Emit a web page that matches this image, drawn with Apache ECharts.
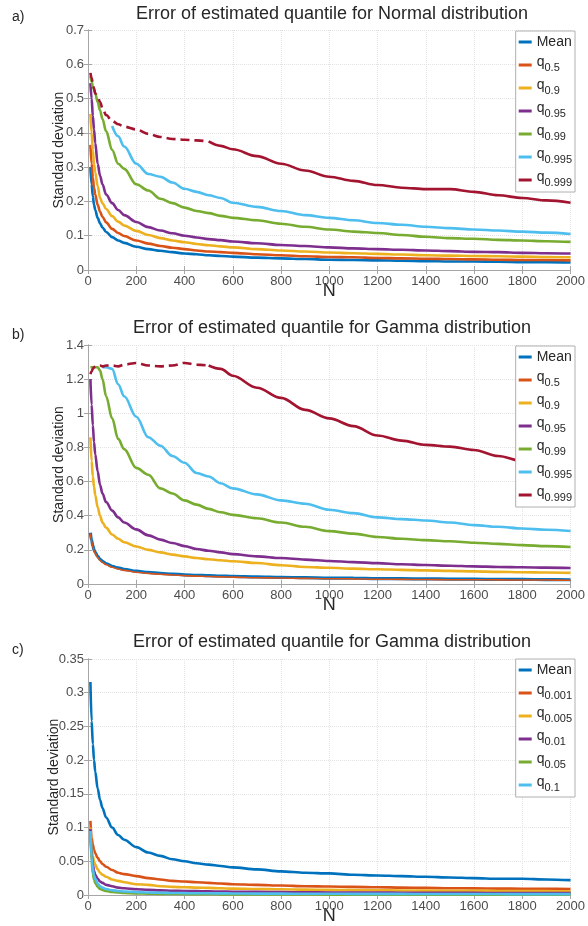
<!DOCTYPE html>
<html>
<head>
<meta charset="utf-8">
<script src="https://cdn.jsdelivr.net/npm/echarts@6/dist/echarts.min.js"></script>
<style>
html,body{margin:0;padding:0;background:#fff;}
#chart{width:588px;height:926px;}
</style>
</head>
<body>
<div id="chart"></div>
<script>
// ---- sample sizes ----
const N = [10,15,20,25,30,40,50,60,75,100,125,150,200,250,300,350,400,450,500,550,600,700,800,900,1000,1100,1200,1300,1400,1500,1600,1700,1800,1900,2000];

// ---- panel a: Normal distribution ----
const aMean = [0.30,0.25,0.215,0.19,0.175,0.152,0.136,0.124,0.111,0.096,0.086,0.079,0.068,0.061,0.056,0.052,0.048,0.046,0.043,0.041,0.039,0.036,0.034,0.032,0.030,0.029,0.028,0.027,0.026,0.025,0.025,0.024,0.023,0.023,0.022];
const aQ05 = [0.365,0.31,0.27,0.24,0.22,0.19,0.17,0.155,0.139,0.12,0.108,0.099,0.086,0.077,0.07,0.065,0.061,0.057,0.054,0.052,0.05,0.046,0.043,0.04,0.038,0.037,0.035,0.034,0.033,0.032,0.031,0.03,0.029,0.029,0.028];
const aQ09 = [0.455,0.4,0.35,0.31,0.285,0.245,0.21,0.195,0.178,0.157,0.141,0.13,0.114,0.102,0.093,0.086,0.081,0.076,0.072,0.069,0.066,0.061,0.057,0.054,0.051,0.049,0.047,0.045,0.043,0.042,0.041,0.04,0.039,0.038,0.037];
const aQ095 = [0.545,0.5,0.45,0.41,0.37,0.31,0.275,0.25,0.22,0.195,0.175,0.16,0.14,0.125,0.115,0.107,0.1,0.095,0.09,0.087,0.083,0.078,0.073,0.07,0.066,0.063,0.061,0.059,0.057,0.055,0.053,0.052,0.05,0.049,0.048];
const aQ099 = [0.565,0.55,0.535,0.525,0.515,0.49,0.465,0.44,0.405,0.35,0.31,0.295,0.25,0.232,0.208,0.195,0.182,0.172,0.166,0.158,0.152,0.145,0.135,0.126,0.118,0.112,0.108,0.102,0.097,0.093,0.091,0.088,0.086,0.084,0.082];
const aQ0995 = [null,null,null,null,null,null,null,null,null,0.42,0.39,0.36,0.31,0.28,0.272,0.255,0.237,0.228,0.218,0.21,0.196,0.184,0.172,0.16,0.152,0.145,0.137,0.132,0.126,0.122,0.118,0.115,0.112,0.109,0.105];
const aQ0999 = [0.575,0.56,0.545,0.53,0.515,0.505,0.49,0.472,0.452,0.435,0.425,0.418,0.41,0.397,0.388,0.382,0.38,0.378,0.375,0.362,0.352,0.332,0.31,0.29,0.272,0.26,0.248,0.24,0.236,0.236,0.228,0.218,0.21,0.203,0.196];

// ---- panel b: Gamma distribution, upper quantiles ----
const bMean = [0.30,0.255,0.225,0.2,0.185,0.162,0.145,0.133,0.12,0.104,0.094,0.086,0.075,0.068,0.062,0.058,0.054,0.051,0.049,0.047,0.045,0.042,0.039,0.037,0.035,0.034,0.032,0.031,0.030,0.029,0.028,0.027,0.027,0.026,0.025];
const bQ05 = [0.295,0.25,0.218,0.194,0.178,0.155,0.138,0.126,0.113,0.098,0.088,0.08,0.069,0.062,0.057,0.053,0.049,0.046,0.044,0.042,0.04,0.037,0.035,0.033,0.031,0.03,0.028,0.027,0.026,0.025,0.025,0.024,0.023,0.023,0.022];
const bQ09 = [0.86,0.72,0.63,0.57,0.52,0.45,0.4,0.36,0.33,0.29,0.265,0.245,0.22,0.2,0.185,0.172,0.162,0.152,0.145,0.139,0.133,0.123,0.11,0.1,0.095,0.09,0.086,0.083,0.08,0.077,0.074,0.071,0.069,0.067,0.065];
const bQ095 = [1.2,1.05,0.93,0.83,0.76,0.66,0.58,0.53,0.48,0.43,0.39,0.36,0.32,0.285,0.26,0.24,0.222,0.205,0.195,0.185,0.175,0.162,0.152,0.143,0.135,0.128,0.122,0.116,0.111,0.107,0.103,0.1,0.098,0.096,0.094];
const bQ099 = [1.27,1.27,1.27,1.27,1.27,1.27,1.25,1.2,1.1,0.97,0.85,0.79,0.68,0.64,0.56,0.53,0.49,0.465,0.44,0.42,0.405,0.385,0.36,0.335,0.31,0.295,0.275,0.265,0.257,0.25,0.242,0.235,0.228,0.222,0.217];
const bQ0995 = [null,null,null,null,null,null,null,1.27,1.27,1.26,1.17,1.1,0.98,0.86,0.81,0.75,0.71,0.65,0.63,0.59,0.56,0.525,0.49,0.47,0.435,0.415,0.39,0.38,0.372,0.36,0.345,0.335,0.325,0.318,0.31];
const bQ0999 = [1.23,1.245,1.26,1.27,1.275,1.28,1.28,1.275,1.28,1.28,1.275,1.285,1.295,1.28,1.275,1.28,1.295,1.285,1.28,1.26,1.22,1.15,1.09,1.02,0.97,0.925,0.87,0.84,0.815,0.805,0.785,0.75,0.72,0.70,0.68];

// ---- panel c: Gamma distribution, lower quantiles ----
const cMean = [0.316,0.258,0.224,0.2,0.183,0.158,0.141,0.129,0.115,0.1,0.089,0.082,0.071,0.063,0.058,0.053,0.05,0.047,0.045,0.043,0.041,0.038,0.035,0.033,0.032,0.03,0.029,0.028,0.027,0.026,0.025,0.024,0.024,0.023,0.022];
const cQ0001 = [0.11,0.085,0.075,0.067,0.062,0.055,0.05,0.046,0.042,0.037,0.033,0.031,0.028,0.025,0.023,0.021,0.02,0.019,0.018,0.017,0.016,0.015,0.014,0.013,0.0125,0.012,0.0115,0.011,0.0105,0.01,0.0098,0.0095,0.0093,0.0091,0.009];
const cQ0005 = [0.1,0.07,0.058,0.05,0.045,0.038,0.033,0.03,0.027,0.023,0.021,0.019,0.016,0.015,0.013,0.012,0.0115,0.011,0.0105,0.01,0.0095,0.009,0.0085,0.008,0.0076,0.0072,0.007,0.0067,0.0065,0.0063,0.0061,0.006,0.0058,0.0057,0.0055];
const cQ001 = [0.098,0.06,0.045,0.036,0.03,0.024,0.02,0.018,0.015,0.013,0.011,0.01,0.0085,0.0076,0.0069,0.0064,0.006,0.0057,0.0054,0.0051,0.0049,0.0046,0.0043,0.004,0.0038,0.0036,0.0035,0.0034,0.0033,0.0032,0.0031,0.003,0.0029,0.0028,0.0028];
const cQ005 = [0.095,0.05,0.032,0.023,0.018,0.012,0.009,0.0075,0.006,0.0045,0.0037,0.0031,0.0024,0.002,0.0017,0.0015,0.0013,0.0012,0.0011,0.001,0.00095,0.00085,0.00075,0.0007,0.00063,0.0006,0.00055,0.00052,0.0005,0.00047,0.00045,0.00043,0.00041,0.0004,0.00038];
const cQ01 = [0.095,0.055,0.038,0.029,0.024,0.017,0.013,0.011,0.009,0.007,0.006,0.0052,0.0043,0.0037,0.0033,0.003,0.0028,0.0026,0.0025,0.0024,0.0023,0.0021,0.002,0.0019,0.0018,0.0017,0.0016,0.0016,0.0015,0.0015,0.0014,0.0014,0.0013,0.0013,0.0013];

// ---- labels ----
const titles = ['Error of estimated quantile for Normal distribution','Error of estimated quantile for Gamma distribution','Error of estimated quantile for Gamma distribution'];
const panelTags = ['a)','b)','c)'];
const namesAB = ['Mean','q0.5','q0.9','q0.95','q0.99','q0.995','q0.999'];
const namesC = ['Mean','q0.001','q0.005','q0.01','q0.05','q0.1'];
const yMax = [0.7,1.4,0.35];
const yStep = [0.1,0.2,0.05];
const xTicks = {min:0,max:2000,step:200};

const COLORS = ['#0072BD','#D95319','#EDB120','#7E2F8E','#77AC30','#4DBEEE','#A2142F'];
const FONT = 'Liberation Sans, Arial, Helvetica, sans-serif';

// layout
const gridTop = [30,345,659];
const gridH = [240,239,239];
const legendTop = [31,346,659];
const yNameGap = [22,22,27];

function pairs(vals, lo, hi){
  const out=[];
  for(let i=0;i<N.length;i++){
    if(vals[i]==null) continue;
    if(lo!=null && N[i]<lo) continue;
    if(hi!=null && N[i]>hi) continue;
    out.push([N[i],vals[i]]);
  }
  return out;
}

const grid=[], xAxis=[], yAxis=[], legend=[], series=[], graphic=[];
const axisColor='#a6a6a6';
for(let p=0;p<3;p++){
  grid.push({left:88,right:12,top:gridTop[p],height:gridH[p],containLabel:false});
  xAxis.push({type:'value',gridIndex:p,min:xTicks.min,max:xTicks.max,interval:xTicks.step,
    name:'N',nameLocation:'middle',nameGap:12,nameMoveOverlap:false,
    nameTextStyle:{fontSize:18,color:'#262626',fontFamily:FONT,verticalAlign:'top'},
    axisLine:{lineStyle:{color:axisColor}},axisTick:{inside:true,length:4,lineStyle:{color:axisColor}},
    axisLabel:{color:'#4d4d4d',fontSize:13,margin:5,fontFamily:FONT,formatter:function(v){return String(v);}},
    splitLine:{show:true,lineStyle:{color:'#e3e3e3',type:'dotted'}}});
  yAxis.push({type:'value',gridIndex:p,min:0,max:yMax[p],interval:yStep[p],
    name:'Standard deviation',nameLocation:'middle',nameGap:yNameGap[p],nameRotate:90,nameMoveOverlap:false,
    nameTextStyle:{fontSize:14,color:'#262626',fontFamily:FONT},
    axisLine:{show:true,lineStyle:{color:axisColor}},axisTick:{show:true,inside:true,length:4,lineStyle:{color:axisColor}},
    axisLabel:{color:'#4d4d4d',fontSize:13,margin:4,fontFamily:FONT},
    splitLine:{show:true,lineStyle:{color:'#e3e3e3',type:'dotted'}}});
}
for(let p=0;p<3;p++){
  xAxis.push({type:'value',gridIndex:p,position:'top',min:xTicks.min,max:xTicks.max,interval:xTicks.step,
    axisLine:{show:true,lineStyle:{color:axisColor}},axisTick:{show:true,inside:true,length:4,lineStyle:{color:axisColor}},
    axisLabel:{show:false},splitLine:{show:false}});
  yAxis.push({type:'value',gridIndex:p,position:'right',min:0,max:yMax[p],interval:yStep[p],
    axisLine:{show:true,lineStyle:{color:axisColor}},axisTick:{show:true,inside:true,length:4,lineStyle:{color:axisColor}},
    axisLabel:{show:false},splitLine:{show:false}});
}

function addLine(p,name,vals,color,width,opts){
  opts=opts||{};
  series.push({type:'line',name:name,xAxisIndex:p,yAxisIndex:p,data:pairs(vals,opts.lo,opts.hi),
    showSymbol:false,symbol:'none',smooth:0.35,smoothMonotone:'x',clip:true,color:color,
    lineStyle:{width:width,color:color,type:opts.dash||'solid',cap:'butt'},z:2,
    emphasis:{disabled:true},silent:true});
}

const panelAB = [[aMean,aQ05,aQ09,aQ095,aQ099,aQ0995,aQ0999],[bMean,bQ05,bQ09,bQ095,bQ099,bQ0995,bQ0999]];
for(let p=0;p<2;p++){
  const arrs=panelAB[p];
  for(let k=0;k<6;k++){
    let w=2.6;
    if(p===1 && k===0) w=3.2;
    if(p===1 && k===1) w=1.6;
    addLine(p,namesAB[k],arrs[k],COLORS[k],w);
  }
  addLine(p,namesAB[6],arrs[6],COLORS[6],2.6,{hi:500,dash:[9,5]});
  addLine(p,namesAB[6],arrs[6],COLORS[6],2.6,{lo:500});
}
const panelC=[cMean,cQ0001,cQ0005,cQ001,cQ005,cQ01];
for(let k=0;k<6;k++) addLine(2,namesC[k],panelC[k],COLORS[k],2.6);

const legendNames=[namesAB,namesAB,namesC];
for(let p=0;p<3;p++){
  legend.push({data:legendNames[p],orient:'vertical',right:13,top:legendTop[p],
    backgroundColor:'#fff',borderColor:'#b0b0b0',borderWidth:1,borderRadius:0,
    padding:[1,3,2,3],itemGap:3,itemWidth:13,itemHeight:3,icon:'rect',selectedMode:false,z:10,
    textStyle:{color:'#262626',fontFamily:FONT,
      rich:{m:{fontSize:14,lineHeight:14,padding:[3,0,3,0],fontFamily:FONT,color:'#262626'},
            q:{fontSize:14,lineHeight:14,padding:[0,0,6,0],fontFamily:FONT,color:'#262626'},
            s:{fontSize:11,lineHeight:11,padding:[7,0,2,0],fontFamily:FONT,color:'#262626'}}},
    formatter:function(n){return n==='Mean'?'{m|Mean}':'{q|q}{s|'+n.slice(1)+'}';}});
}

const titleY=[14,328,642];
const tagY=[17,335,650];
for(let p=0;p<3;p++){
  graphic.push({type:'text',x:332,y:titleY[p],style:{text:titles[p],fill:'#262626',font:'18px '+FONT,textAlign:'center',textVerticalAlign:'middle'}});
  graphic.push({type:'text',x:12,y:tagY[p],style:{text:panelTags[p],fill:'#262626',font:'14px '+FONT,textAlign:'left',textVerticalAlign:'middle'}});
}

const chart=echarts.init(document.getElementById('chart'),null,{renderer:'canvas'});
chart.setOption({animation:false,backgroundColor:'#fff',grid,xAxis,yAxis,legend,series,graphic});
</script>
</body>
</html>
